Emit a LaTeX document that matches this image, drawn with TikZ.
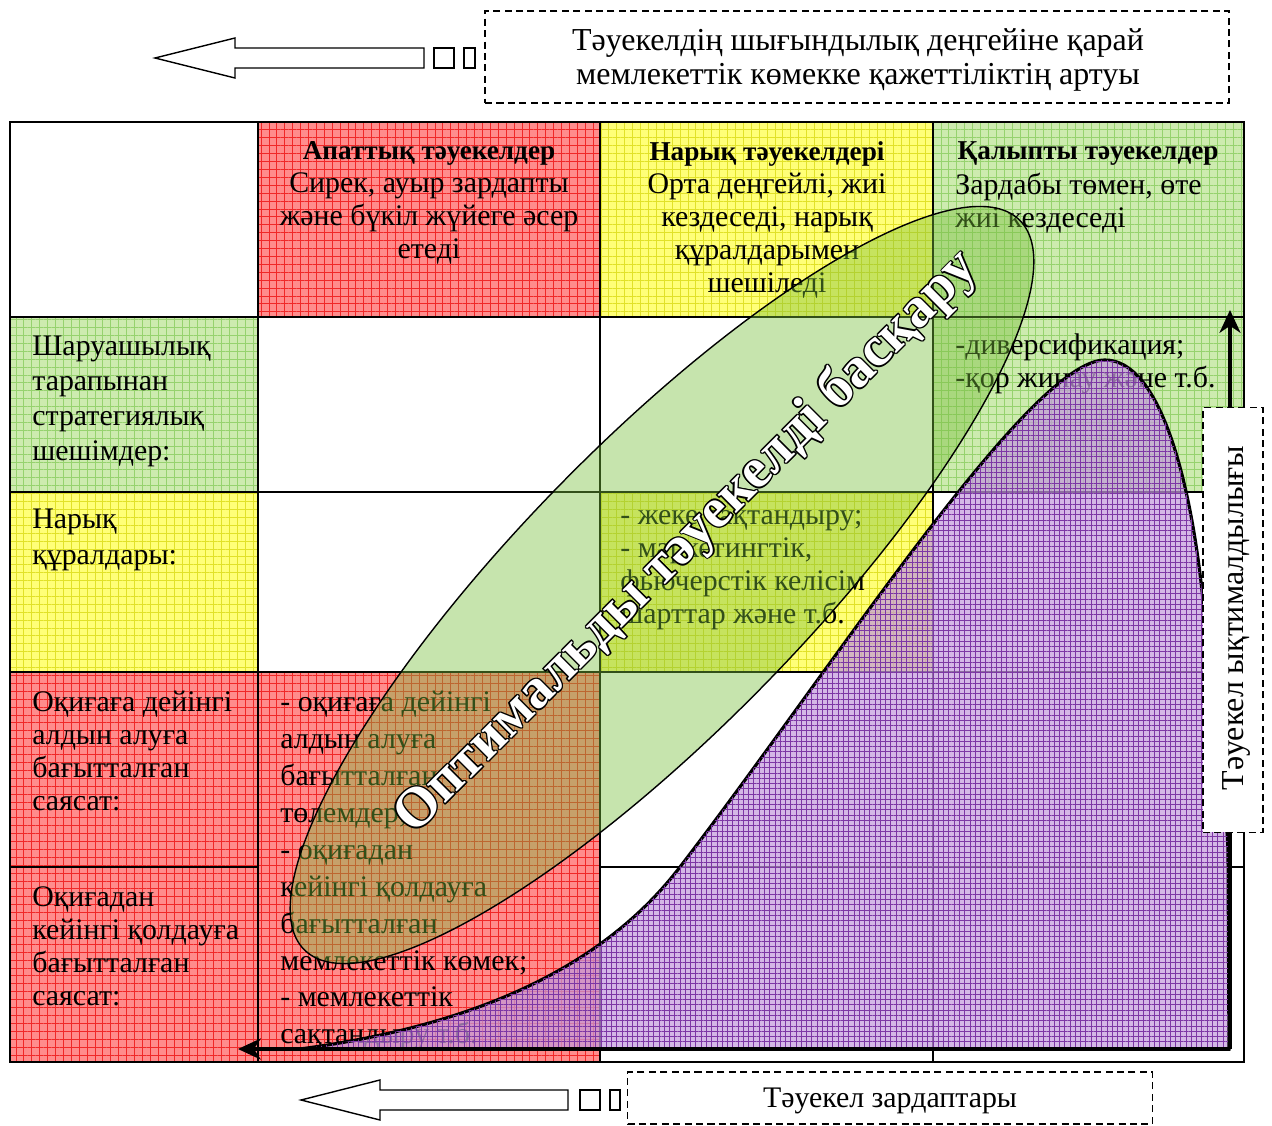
\documentclass[tikz,border=0pt]{standalone}
\usepackage{fontspec}
\setmainfont{Liberation Serif}
\usetikzlibrary{arrows.meta,patterns.meta}

\definecolor{redcell}{RGB}{255,140,140}
\definecolor{redgrid}{RGB}{240,40,40}
\definecolor{yelcell}{RGB}{255,255,120}
\definecolor{yelgrid}{RGB}{225,225,40}
\definecolor{grncell}{RGB}{205,235,175}
\definecolor{grngrid}{RGB}{150,210,110}
\definecolor{purcell}{RGB}{195,155,220}
\definecolor{purgrid}{RGB}{125,55,165}
\definecolor{ellgreen}{RGB}{120,190,60}

\tikzset{
  redbox/.style={fill=redcell, postaction={pattern={Hatch[distance=4.5pt,line width=0.35pt]}, pattern color=redgrid}},
  yelbox/.style={fill=yelcell, postaction={pattern={Hatch[distance=4.5pt,line width=0.35pt]}, pattern color=yelgrid}},
  grnbox/.style={fill=grncell, postaction={pattern={Hatch[distance=4.5pt,line width=0.35pt]}, pattern color=grngrid}},
  cell/.style={font=\fontsize{17}{18.8}\selectfont, inner sep=0pt, align=left, anchor=north west},
  head/.style={cell, align=center, anchor=north},
  dashbox/.style={draw, dashed, dash pattern=on 4pt off 2.5pt, line width=0.8pt, fill=white, inner sep=0pt},
  boxtext/.style={font=\fontsize{18.2}{19.5}\selectfont, align=center, inner sep=0pt},
  blockarrow/.style={draw, line width=0.8pt, fill=white},
  axis/.style={line width=1.8pt, -{Stealth[length=13pt,width=12pt,inset=4pt]}},
  bigtext/.style={font=\fontsize{32}{32}\selectfont\bfseries, rotate=45, inner sep=0pt}
}

\newcommand{\celltitle}[1]{{\fontsize{15.5}{18.8}\selectfont\bfseries #1}}

\begin{document}
\begin{tikzpicture}[x=0.02cm, y=-0.02cm]
\useasboundingbox (0,0) rectangle (1272,1126);

% cells
\path[redbox] (258,122) rectangle (600,317);
\path[yelbox] (600,122) rectangle (933,317);
\path[grnbox] (933,122) rectangle (1244,317);
\path[grnbox] (10,317) rectangle (258,492);
\path[grnbox] (933,317) rectangle (1244,492);
\path[yelbox] (10,492) rectangle (258,672);
\path[yelbox] (600,492) rectangle (933,672);
\path[redbox] (10,672) rectangle (258,1062);
\path[redbox] (258,672) rectangle (600,1062);

% table lines
\draw[line width=0.9pt] (10,122) rectangle (1244,1062);
\foreach \y in {317,492,672}
  \draw[line width=0.9pt] (10,\y) -- (1244,\y);
\draw[line width=0.9pt] (10,867) -- (258,867);
\draw[line width=0.9pt] (600,867) -- (1244,867);
\foreach \x in {258,600,933}
  \draw[line width=0.9pt] (\x,122) -- (\x,1062);
\draw[line width=1.6pt] (258,122) rectangle (1244,317);
\draw[line width=1.6pt] (600,122) -- (600,317);
\draw[line width=1.6pt] (933,122) -- (933,317);

% texts
\node[head] (catas) at (429,141) {\celltitle{Апаттық тәуекелдер}\\Сирек, ауыр зардапты\\және бүкіл жүйеге әсер\\етеді};
\node[head] (market) at (767,141) {\celltitle{Нарық тәуекелдері}\\Орта деңгейлі, жиі\\кездеседі, нарық\\құралдарымен\\шешіледі};
\node[head] (normal) at (1088,141) {\celltitle{Қалыпты тәуекелдер}};
\node[cell] (normtxt) at (955,173) {Зардабы төмен, өте\\жиі кездеседі};
\node[cell, font=\fontsize{17}{19.8}\selectfont] (farm) at (32,336) {Шаруашылық\\тарапынан\\стратегиялық\\шешімдер:};
\node[cell] (divers) at (955,333) {-диверсификация;\\-қор жинау және т.б.};
\node[cell, font=\fontsize{17}{20.5}\selectfont] (tools) at (32,509) {Нарық\\құралдары:};
\node[cell] (toolstxt) at (620,510) {- жеке сақтандыру;\\- маркетингтік,\\фьючерстік келісім\\шарттар және т.б.};
\node[cell] (before) at (32,691) {Оқиғаға дейінгі\\алдын алуға\\бағытталған\\саясат:};
\node[cell, font=\fontsize{17}{21}\selectfont] (policy) at (280,691) {- оқиғаға дейінгі\\алдын алуға\\бағытталған\\төлемдер;\\- оқиғадан\\кейінгі қолдауға\\бағытталған\\мемлекеттік көмек;\\- мемлекеттік\\сақтандыру т.б.};
\node[cell] (after) at (32,886) {Оқиғадан\\кейінгі қолдауға\\бағытталған\\саясат:};

% probability area
\filldraw[fill=purcell, fill opacity=0.72, line width=1.8pt,
  postaction={pattern={Hatch[distance=3pt,line width=0.35pt]}, pattern color=purgrid, fill opacity=0.4}]
  (300,1049) .. controls (480,1025) and (605,965) .. (680,867)
  .. controls (830,672) and (1030,360) .. (1105,360)
  .. controls (1160,360) and (1190,480) .. (1202,591)
  .. controls (1214,700) and (1226,800) .. (1228,850)
  -- (1229,1049) -- cycle;

% optimal management zone
\fill[ellgreen, fill opacity=0.42, rotate around={45.6:(662,585)}] (662,585) ellipse [x radius=10.22cm, y radius=2.86cm];
\draw[line width=0.8pt, rotate around={45.6:(662,585)}] (662,585) ellipse [x radius=10.22cm, y radius=2.86cm];

\foreach \dx/\dy [count=\k] in {1/0,-1/0,0/1,0/-1,0.7/0.7,-0.7/0.7,0.7/-0.7,-0.7/-0.7}
  \node[bigtext, black, xshift=\dx*0.8pt, yshift=\dy*0.8pt] (optc\k) at (687,543) {Оптимальды тәуекелді басқару};
\node[bigtext, white] (opt) at (687,543) {Оптимальды тәуекелді басқару};

% axes
\coordinate (org) at (1230,1049);
\coordinate (xtip) at (238,1049);
\coordinate (ytip) at (1230,310);
\draw[axis] (org) -- (xtip);
\draw[axis] (org) -- (ytip);

% labels
\node[dashbox, minimum width=14.88cm, minimum height=1.84cm] (need) at (857,57) {};
\node[boxtext] (needtxt) at (858,60) {Тәуекелдің шығындылық деңгейіне қарай\\мемлекеттік көмекке қажеттіліктің артуы};
\node[dashbox, minimum width=10.5cm, minimum height=1.04cm] (loss) at (890,1098) {};
\node[boxtext, font=\fontsize{17}{19}\selectfont] (losstxt) at (890,1101) {Тәуекел зардаптары};
\node[dashbox, minimum width=1.2cm, minimum height=8.5cm] (prob) at (1233,620) {};
\node[boxtext, rotate=90] (probtxt) at (1236,618) {Тәуекел ықтималдылығы};

% block arrows
\draw[blockarrow] (155,58) -- (235,38) -- (235,48) -- (424,48) -- (424,68) -- (235,68) -- (235,78) -- cycle;
\draw[blockarrow] (434,48) rectangle (454,68);
\draw[blockarrow] (464,48) rectangle (475,68);
\draw[blockarrow] (301,1100) -- (380,1080) -- (380,1090) -- (568,1090) -- (568,1110) -- (380,1110) -- (380,1120) -- cycle;
\draw[blockarrow] (580,1090) rectangle (600,1110);
\draw[blockarrow] (610,1090) rectangle (620,1110);

\end{tikzpicture}
\end{document}
